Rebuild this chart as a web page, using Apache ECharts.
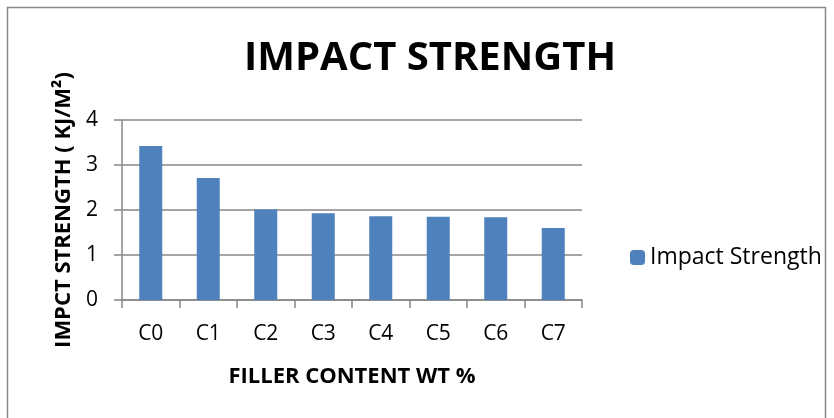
<!DOCTYPE html>
<html>
<head>
<meta charset="utf-8">
<script src="https://cdn.jsdelivr.net/npm/echarts@6/dist/echarts.min.js"></script>
<style>
    html, body { margin: 0; padding: 0; background: #fff; }
    #chart { width: 834px; height: 418px; }
</style>
</head>
<body>
<div id="chart"></div>
<script>
    // data
    var categories = ['C0', 'C1', 'C2', 'C3', 'C4', 'C5', 'C6', 'C7'];
    var impactStrength = [3.42, 2.71, 2.01, 1.93, 1.86, 1.85, 1.84, 1.60];
    var yTicks = [0, 1, 2, 3, 4];

    var font = '"Open Sans", sans-serif';
    var gridColor = '#878787';

    var chart = echarts.init(document.getElementById('chart'));
    chart.setOption({
        backgroundColor: '#fff',
        animation: false,
        textStyle: { fontFamily: font },
        graphic: [
            {
                type: 'rect',
                shape: { x: 7.5, y: 7.5, width: 818, height: 420 },
                style: { fill: 'none', stroke: gridColor, lineWidth: 1.5 },
                silent: true
            }
        ],
        title: {
            text: 'IMPACT STRENGTH',
            left: 425,
            top: 34,
            textAlign: 'center',
            textStyle: {
                fontFamily: font,
                fontWeight: 'bold',
                fontSize: 40,
                color: '#000'
            }
        },
        legend: {
            left: 625,
            top: 241,
            itemWidth: 15,
            itemHeight: 15,
            itemGap: 10,
            textStyle: { fontFamily: font, fontSize: 23, color: '#000' },
            data: ['Impact Strength']
        },
        grid: {
            left: 122,
            right: 252,
            top: 120,
            bottom: 118,
            containLabel: false
        },
        xAxis: {
            type: 'category',
            data: categories,
            name: 'FILLER CONTENT WT %',
            nameLocation: 'middle',
            nameGap: 66,
            nameTextStyle: { fontFamily: font, fontWeight: 'bold', fontSize: 22, color: '#000' },
            axisLine: { lineStyle: { color: gridColor, width: 1.5 } },
            axisTick: { show: true, length: 8, lineStyle: { color: gridColor, width: 1.5 } },
            axisLabel: { fontFamily: font, fontSize: 21, color: '#000', margin: 24 }
        },
        yAxis: {
            type: 'value',
            min: yTicks[0],
            max: yTicks[yTicks.length - 1],
            interval: 1,
            name: 'IMPCT STRENGTH ( KJ/M²)',
            nameLocation: 'middle',
            nameGap: 46,
            nameTextStyle: { fontFamily: font, fontWeight: 'bold', fontSize: 22, color: '#000' },
            axisLine: { show: true, lineStyle: { color: gridColor, width: 1.5 } },
            axisTick: { show: true, length: 8, lineStyle: { color: gridColor, width: 1.5 } },
            axisLabel: { fontFamily: font, fontSize: 21, color: '#000', margin: 24 },
            splitLine: { show: true, lineStyle: { color: gridColor, width: 1.5 } }
        },
        series: [
            {
                name: 'Impact Strength',
                type: 'bar',
                barWidth: 23,
                itemStyle: { color: '#4f81bd' },
                data: impactStrength
            }
        ]
    });
</script>
</body>
</html>
